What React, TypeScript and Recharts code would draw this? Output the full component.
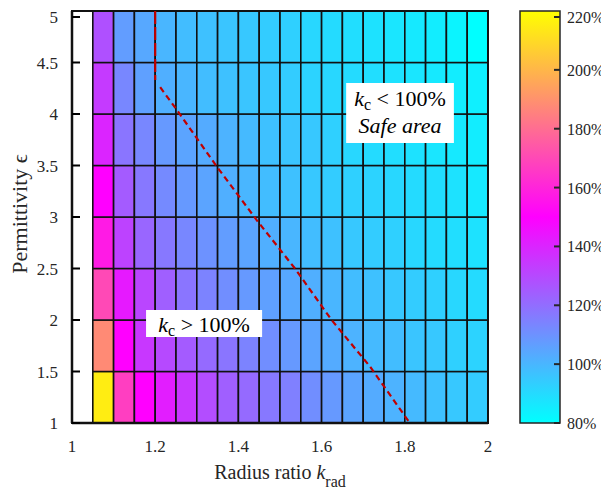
import React from 'react';
import { ScatterChart, Scatter, XAxis, YAxis, ReferenceArea } from 'recharts';

// Column edges (radius ratio k_rad) and row edges (permittivity)
const kradEdges = [1.05, 1.1, 1.15, 1.2, 1.25, 1.3, 1.35, 1.4, 1.45, 1.5, 1.55, 1.6, 1.65, 1.7, 1.75, 1.8, 1.85, 1.9, 1.95, 2.0];
const epsEdges = [1, 1.5, 2, 2.5, 3, 3.5, 4, 4.5, 5];

// k_c (%) per row, from k_rad = 1.05 to 1.95
const kcEps1p0 = [215, 167, 150, 142, 135, 129, 124, 121, 117, 115, 111, 108, 105, 103, 101, 99, 97, 95, 94];
const kcEps1p5 = [188, 150, 135, 130, 125, 121, 118, 114, 111, 108, 105, 103, 101, 99, 98, 96, 95, 93, 92];
const kcEps2p0 = [170, 143, 131, 124, 118, 114, 111, 108, 106, 104, 102, 100, 98, 97, 95, 94, 93, 91, 90];
const kcEps2p5 = [157, 132, 122, 117, 113, 110, 107, 105, 102, 100, 98, 97, 95, 94, 93, 91, 90, 89, 88];
const kcEps3p0 = [150, 125, 117, 112, 108, 105, 102, 100, 98, 97, 95, 94, 93, 92, 91, 90, 89, 88, 86];
const kcEps3p5 = [140, 118, 113, 108, 105, 103, 101, 99, 97, 96, 95, 93, 91, 90, 89, 88, 87, 86, 85];
const kcEps4p0 = [134, 113, 106, 102, 100, 98, 97, 96, 95, 94, 92, 91, 90, 89, 88, 87, 86, 85, 84];
const kcEps4p5 = [128, 107, 104, 100, 98, 97, 96, 95, 94, 93, 91, 90, 89, 88, 87, 86, 85, 83, 80];
const kcRows = [kcEps1p0, kcEps1p5, kcEps2p0, kcEps2p5, kcEps3p0, kcEps3p5, kcEps4p0, kcEps4p5];

// 100% boundary (contour)
const contourUpper = [{ x: 1.2, y: 5 }, { x: 1.2, y: 4.33 }];
const contourLower = [
  { x: 1.212, y: 4.26 }, { x: 1.252, y: 4.04 }, { x: 1.348, y: 3.49 }, { x: 1.444, y: 2.97 },
  { x: 1.536, y: 2.5 }, { x: 1.624, y: 2.0 }, { x: 1.716, y: 1.55 }, { x: 1.812, y: 1.0 },
];

const xTicks = [1, 1.2, 1.4, 1.6, 1.8, 2];
const yTicks = [1, 1.5, 2, 2.5, 3, 3.5, 4, 4.5, 5];
const cbarTicks = [80, 100, 120, 140, 160, 180, 200, 220];

// Annotation boxes (data coords)
const boxHigh = { x1: 1.178, x2: 1.457, y1: 1.835, y2: 2.097 };
const boxSafe = { x1: 1.659, x2: 1.918, y1: 3.718, y2: 4.301 };

const FONT = 'Liberation Serif, Times New Roman, serif';
const TXT = '#262626';

function cmap(v: number): string {
  const t = Math.max(0, Math.min(1, (v - 80) / 140));
  let r: number, g: number, b: number;
  if (t <= 0.5) {
    const s = t / 0.5;
    r = 255 * s; g = 255 * (1 - s); b = 255;
  } else {
    const s = (t - 0.5) / 0.5;
    r = 255; g = 255 * s; b = 255 * (1 - s);
  }
  return `rgb(${Math.round(r)},${Math.round(g)},${Math.round(b)})`;
}

const cells: { x1: number; x2: number; y1: number; y2: number; v: number }[] = [];
kcRows.forEach((row, r) => {
  row.forEach((v, c) => {
    cells.push({ x1: kradEdges[c], x2: kradEdges[c + 1], y1: epsEdges[r], y2: epsEdges[r + 1], v });
  });
});

const YTick = (p: any) => {
  const { x, y, payload } = p;
  return (
    <g>
      <line x1={x + 14} x2={x + 22} y1={y} y2={y} stroke="#000" strokeWidth={2} />
      <text x={x} y={y} dy={6} textAnchor="end" style={{ fontFamily: FONT }} fontSize={17} fill={TXT}>
        {payload.value}
      </text>
    </g>
  );
};

const XTick = (p: any) => {
  const { x, y, payload } = p;
  return (
    <text x={x} y={y} dy={12} textAnchor="middle" style={{ fontFamily: FONT }} fontSize={17} fill={TXT}>
      {payload.value}
    </text>
  );
};

const CbTick = (p: any) => {
  const { x, y, payload } = p;
  return (
    <g>
      <line x1={x - 13} x2={x - 7} y1={y} y2={y} stroke="#262626" strokeWidth={2} />
      <text x={x} y={y} dy={6} textAnchor="start" style={{ fontFamily: FONT }} fontSize={16} fill={TXT}>
        {payload.value}%
      </text>
    </g>
  );
};

const HighLabel = (p: any) => {
  const vb = p.viewBox || {};
  const cx = vb.x + vb.width / 2;
  const cy = vb.y + vb.height / 2;
  return (
    <text x={cx} y={cy + 8} textAnchor="middle" style={{ fontFamily: FONT }} fontSize={22} fill="#000">
      <tspan fontStyle="italic">k</tspan>
      <tspan fontSize={16} dy={4}>c</tspan>
      <tspan dy={-4}>{' > 100%'}</tspan>
    </text>
  );
};

const SafeLabel = (p: any) => {
  const vb = p.viewBox || {};
  const cx = vb.x + vb.width / 2;
  const top = vb.y;
  return (
    <g>
      <text x={cx} y={top + 23} textAnchor="middle" style={{ fontFamily: FONT }} fontSize={22} fill="#000">
        <tspan fontStyle="italic">k</tspan>
        <tspan fontSize={16} dy={4}>c</tspan>
        <tspan dy={-4}>{' < 100%'}</tspan>
      </text>
      <text x={cx} y={top + 50} textAnchor="middle" style={{ fontFamily: FONT }} fontSize={22} fontStyle="italic" fill="#000">
        Safe area
      </text>
    </g>
  );
};

const YLabel = (p: any) => {
  const vb = p.viewBox || {};
  const cy = vb.y + vb.height / 2 - 3;
  const x = 19;
  return (
    <text x={x} y={cy} transform={`rotate(-90 ${x} ${cy})`} textAnchor="middle" style={{ fontFamily: FONT }} fontSize={22} fill={TXT}>
      Permittivity ϵ
    </text>
  );
};

const XLabel = (p: any) => {
  const vb = p.viewBox || {};
  const cx = vb.x + vb.width / 2;
  return (
    <text x={cx} y={471} textAnchor="middle" style={{ fontFamily: FONT }} fontSize={20} fill={TXT}>
      Radius ratio <tspan fontStyle="italic">k</tspan>
      <tspan fontSize={16} dy={8}>rad</tspan>
    </text>
  );
};

const noShape = () => <g />;

export default function App() {
  return (
    <div style={{ position: 'relative', width: 601, height: 485 }}>
      <div style={{ position: 'absolute', left: 0, top: 0 }}>
        <ScatterChart width={500} height={485} margin={{ top: 3, right: 20, left: 0, bottom: 0 }}>
          {cells.map((c, i) => (
            <ReferenceArea
              key={i}
              x1={c.x1}
              x2={c.x2}
              y1={c.y1}
              y2={c.y2}
              fill={cmap(c.v)}
              fillOpacity={1}
              stroke="#111"
              strokeWidth={1.6}
              ifOverflow="visible"
            />
          ))}
          <Scatter
            data={contourUpper}
            dataKey="y"
            shape={noShape}
            line={{ stroke: '#c00000', strokeWidth: 2.2, strokeDasharray: '13 3' }}
            isAnimationActive={false}
          />
          <Scatter
            data={contourLower}
            dataKey="y"
            shape={noShape}
            line={{ stroke: '#c00000', strokeWidth: 2.2, strokeDasharray: '6 4' }}
            isAnimationActive={false}
          />
          <ReferenceArea
            x1={boxHigh.x1} x2={boxHigh.x2} y1={boxHigh.y1} y2={boxHigh.y2}
            fill="#fff" fillOpacity={1} stroke="none"
            label={(p: any) => <HighLabel {...p} />}
          />
          <ReferenceArea
            x1={boxSafe.x1} x2={boxSafe.x2} y1={boxSafe.y1} y2={boxSafe.y2}
            fill="#fff" fillOpacity={1} stroke="none"
            label={(p: any) => <SafeLabel {...p} />}
          />
          <ReferenceArea
            x1={1} x2={2} y1={1} y2={5}
            fill="none" fillOpacity={0} stroke="#111" strokeWidth={2}
            ifOverflow="visible"
          />
          <XAxis
            type="number"
            dataKey="x"
            domain={[1, 2]}
            ticks={xTicks}
            allowDataOverflow
            height={70}
            tickLine={false}
            tickSize={0}
            tickMargin={17}
            axisLine={{ stroke: '#111', strokeWidth: 2.5 }}
            tick={<XTick />}
            label={(p: any) => <XLabel {...p} />}
          />
          <YAxis
            type="number"
            dataKey="y"
            domain={[1, 5]}
            ticks={yTicks}
            allowDataOverflow
            width={64}
            tickLine={false}
            tickSize={0}
            tickMargin={14}
            axisLine={{ stroke: '#111', strokeWidth: 2.5 }}
            tick={<YTick />}
            label={(p: any) => <YLabel {...p} />}
          />
        </ScatterChart>
      </div>
      <div style={{ position: 'absolute', left: 500, top: 0 }}>
        <ScatterChart width={101} height={485} margin={{ top: 3, right: 0, left: 12, bottom: 70 }}>
          <defs>
            <linearGradient id="cbarGrad" x1="0" y1="0" x2="0" y2="1">
              <stop offset="0" stopColor={cmap(220)} />
              <stop offset="0.5" stopColor={cmap(150)} />
              <stop offset="1" stopColor={cmap(80)} />
            </linearGradient>
          </defs>
          <XAxis type="number" dataKey="x" domain={[0, 1]} hide allowDataOverflow height={0} />
          <YAxis
            type="number"
            dataKey="y"
            orientation="right"
            domain={[80, 220]}
            ticks={cbarTicks}
            allowDataOverflow
            width={49}
            tickLine={false}
            axisLine={false}
            tickSize={0}
            tickMargin={7}
            tick={<CbTick />}
          />
          <ReferenceArea
            x1={0} x2={1} y1={80} y2={220}
            fill="url(#cbarGrad)" fillOpacity={1}
            stroke="#262626" strokeWidth={1.5}
            ifOverflow="visible"
          />
        </ScatterChart>
      </div>
    </div>
  );
}
